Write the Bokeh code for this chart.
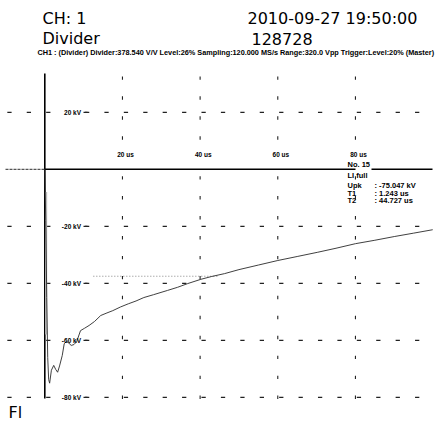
from bokeh.plotting import figure
from bokeh.models import Range1d, Label
from bokeh.core.properties import value
from bokeh.embed import file_html
from bokeh.resources import INLINE
import numpy as np

# ---- recorded impulse (time in us, voltage in kV) ----
time_us = [0.0, 0.25, 0.5, 0.75, 1.0, 1.243, 1.7, 2.3, 2.8, 3.3, 3.8, 4.5, 5.0, 5.6,
           6.2, 6.8, 7.5, 8.2, 9.2, 10.2, 11.4, 12.8, 14.4, 16.0, 17.5, 19.5, 21.5,
           23.5, 25.5, 28.0, 31.6, 34.2, 36.8, 40.2, 43.0, 46.3, 50.0, 55.0, 60.0,
           65.0, 70.3, 75.0, 80.0, 85.0, 90.0, 95.0, 99.9]
volt_kv = [0.0, -18.0, -45.0, -66.0, -73.8, -75.047, -70.5, -68.8, -70.2, -71.2, -69.0,
           -65.3, -61.2, -60.4, -61.0, -61.8, -61.5, -60.5, -56.6, -55.8, -54.8, -53.4,
           -51.3, -50.4, -49.6, -48.3, -47.2, -46.2, -45.0, -44.0, -42.5, -41.4, -40.1,
           -38.6, -37.6, -36.6, -35.2, -33.6, -32.0, -30.6, -29.1, -27.7, -26.1, -24.9,
           -23.6, -22.4, -21.2]

# measured results
upk_kv = -75.047
t1_us = 1.243
t2_us = 44.727
shot_no = "No. 15"
shot_kind = "LI full"

# axis divisions
volt_rows = [20, -20, -40, -60, -80]
volt_row_labels = ["20 kV", "-20 kV", "-40 kV", "-60 kV", "-80 kV"]
time_cols = [20, 40, 60, 80]
time_col_labels = ["20 us", "40 us", "60 us", "80 us"]

# header
hdr_channel = "CH: 1"
hdr_stamp = "2010-09-27 19:50:00"
hdr_device = "Divider"
hdr_serial = "128728"
hdr_settings = ("CH1 : (Divider)  Divider:378.540 V/V  Level:26%  "
                "Sampling:120.000 MS/s  Range:320.0 Vpp  Trigger:Level:20%  (Master)")
footer_tag = "Fl"

# ---- page geometry: pixel <-> data mapping ----
W, H = 447, 425
X0, SX = 44.3, 3.883      # px of t=0, px per us
Y0, SY = 168.8, 2.85      # px of 0 kV, px per kV


def tx(px):
    return (px - X0) / SX


def vy(py):
    return (Y0 - py) / SY


p = figure(width=W, height=H, x_range=Range1d(tx(0), tx(W)), y_range=Range1d(vy(H), vy(0)),
           output_backend="svg", toolbar_location=None, x_axis_type=None, y_axis_type=None,
           min_border=0, outline_line_color=None)
p.background_fill_color = "white"
p.border_fill_color = "white"

INK = "black"
SANS = value("Liberation Sans")

# horizontal dashed rows: short dashes every 5 us
dash_c = np.arange(-10, 100, 5) + 0.9
hx0, hx1, hy = [], [], []
for lvl in volt_rows:
    for c in dash_c:
        if 3.0 < c < 9.0:       # room for the kV label
            continue
        hx0.append(c - 0.55)
        hx1.append(c + 0.55)
        hy.append(lvl)
p.segment(x0=hx0, y0=hy, x1=hx1, y1=hy, line_color="#222222", line_width=1.2)

# vertical dashed columns
vdash = -80 + 7 * np.arange(0, 17)
vx, vy0, vy1 = [], [], []
for col in time_cols:
    for c in vdash:
        if 2.0 < c < 7.0:       # room for the time label
            continue
        vx.append(col)
        vy0.append(c - 0.6)
        vy1.append(c + 0.6)
p.segment(x0=vx, y0=vy0, x1=vx, y1=vy1, line_color="#222222", line_width=1.1)

# left axis line
p.segment(x0=[0], y0=[vy(398)], x1=[0], y1=[vy(73)], line_color="black", line_width=1.6)

# zero reference
p.segment(x0=[tx(5)], y0=[0], x1=[0], y1=[0], line_color="#555555", line_width=1.2,
          line_dash="3 1")
p.segment(x0=[0, tx(371)], y0=[0, 0], x1=[tx(355), tx(432)], y1=[0, 0],
          line_color="black", line_width=1.4)

# half-value marker
p.segment(x0=[12.5], y0=[upk_kv / 2], x1=[t2_us], y1=[upk_kv / 2],
          line_color="#777777", line_width=0.9, line_dash="1 2")

# front (faint band) and the trace itself
p.line(x=[0.35, 0.35], y=[-8, -58], line_color="#bbbbbb", line_width=2)
p.line(x=time_us, y=volt_kv, line_color="#2a2a2a", line_width=0.9)

# kV labels with their trailing tick
p.text(x=[tx(80.5)] * len(volt_rows), y=volt_rows, text=volt_row_labels,
       text_align="right", text_baseline="middle", text_font=SANS,
       text_font_style="bold", text_font_size="6.5px", text_color=INK)
p.segment(x0=[tx(83)] * len(volt_rows), y0=volt_rows, x1=[tx(87)] * len(volt_rows),
          y1=volt_rows, line_color="#222222", line_width=1.2)

# time labels above the zero line
p.text(x=[c + 0.8 for c in time_cols], y=[vy(154)] * len(time_cols), text=time_col_labels,
       text_align="center", text_baseline="middle", text_font=SANS,
       text_font_style="bold", text_font_size="6.5px", text_color=INK)

# result block
res_font = "7.5px"
p.text(x=[tx(347)] * 2, y=[vy(164), vy(175)], text=[shot_no, shot_kind],
       text_baseline="middle", text_font=SANS, text_font_style="bold",
       text_font_size=res_font, text_color=INK)
p.text(x=[tx(347)] * 3, y=[vy(185), vy(192.5), vy(200)], text=["Upk", "T1", "T2"],
       text_baseline="middle", text_font=SANS, text_font_style="bold",
       text_font_size=res_font, text_color=INK)
p.text(x=[tx(374)] * 3, y=[vy(185), vy(192.5), vy(200)],
       text=[f": {upk_kv:.3f} kV", f": {t1_us:.3f} us", f": {t2_us:.3f} us"],
       text_baseline="middle", text_font=SANS, text_font_style="bold",
       text_font_size=res_font, text_color=INK)

# header
HDR = value("DejaVu Sans")
p.text(x=[tx(42), tx(42)], y=[vy(18.3), vy(38.3)], text=[hdr_channel, hdr_device],
       text_baseline="alphabetic", text_font=HDR, text_font_size="16px", text_color="black")
p.text(x=[tx(247), tx(251)], y=[vy(18.3), vy(38.3)], text=[hdr_stamp, hdr_serial],
       text_baseline="alphabetic", text_font=HDR, text_font_size="16px", text_color="black")
p.text(x=[tx(37)], y=[vy(51.5)], text=[hdr_settings], text_baseline="middle",
       text_font=SANS, text_font_style="bold", text_font_size="7.3px", text_color=INK)

# footer tag
p.add_layout(Label(x=tx(8), y=vy(412), text=footer_tag, text_baseline="middle",
                   text_font="DejaVu Sans", text_font_size="16px", text_color="black"))

open("out.html", "w").write(file_html(p, INLINE))
